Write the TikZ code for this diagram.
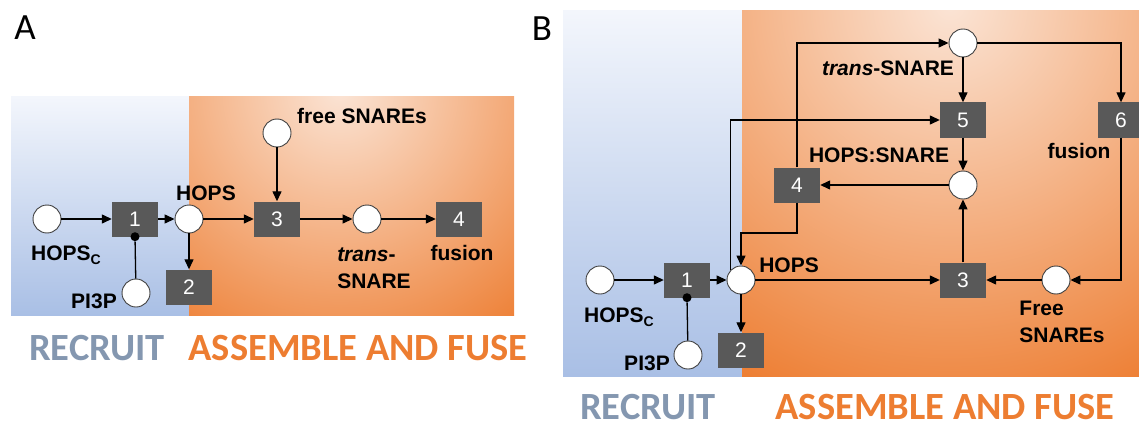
\documentclass[tikz,border=0pt]{standalone}
\usepackage{fontspec}
\setmainfont{Liberation Sans}
\newfontfamily\calfont{Carlito}
\usetikzlibrary{arrows.meta}
\definecolor{pnbox}{HTML}{595959}
\definecolor{recruitblue}{HTML}{8497B0}
\definecolor{fuseorange}{HTML}{ED7D31}
\definecolor{bgbluetop}{HTML}{F3F6FC}
\definecolor{bgbluebot}{HTML}{A9BFE5}
\definecolor{bgorangein}{HTML}{FBE4D5}
\definecolor{bgorangeout}{HTML}{ED7D31}
\newcommand{\hopsc}{HOPS\raisebox{-4pt}{\fontsize{14}{14}\selectfont C}}

\begin{document}
\begin{tikzpicture}[
   x=1pt,y=-1pt,>={Triangle[length=10pt,width=9pt]},
   pnplace/.style={circle,draw=black!75,line width=0.9pt,fill=white,
     minimum size=28pt,inner sep=0pt},
   pntrans/.style={fill=pnbox,minimum width=46pt,minimum height=35pt,
     inner sep=0pt,text=white,font=\fontsize{21}{21}\selectfont},
   pnread/.style={circle,fill=black,minimum size=9pt,inner sep=0pt},
   pnlabel/.style={inner sep=0pt,align=left,font=\fontsize{21}{26.5}\selectfont\bfseries},
   pnphase/.style={inner sep=0pt,font=\calfont\fontsize{38.5}{40}\selectfont\bfseries},
   pnpanel/.style={inner sep=0pt,font=\calfont\fontsize{37}{40}\selectfont},
   pnarc/.style={->,line width=1.3pt},
   pnline/.style={line width=1.3pt}
 ]
 \useasboundingbox (0,0) rectangle (1139,425);
 % A: recruit and assemble regions
 \shade[top color=bgbluetop,bottom color=bgbluebot] (11,97) rectangle (189,315);
 \begin{scope}
   \clip (189,97) rectangle (514,315);
   \fill[bgorangeout] (189,97) rectangle (514,315);
   \shade[inner color=bgorangein,outer color=bgorangeout] (340,90) circle (300pt);
 \end{scope}
 % B: recruit and assemble regions
 \shade[top color=bgbluetop,bottom color=bgbluebot] (563,11) rectangle (742,376);
 \begin{scope}
   \clip (742,11) rectangle (1139,376);
   \fill[bgorangeout] (742,11) rectangle (1139,376);
   \shade[inner color=bgorangein,outer color=bgorangeout] (950,5) circle (430pt);
 \end{scope}

 % A: places and transitions
 \node[pnplace] (a-hopsc) at (47,219) {};
 \node[pntrans] (a-t1) at (135,219) {1};
 \node[pnplace] (a-hops) at (189,219) {};
 \node[pntrans] (a-t2) at (189,287) {2};
 \node[pnplace] (a-pi3p) at (136,293) {};
 \node[pnread] (a-read) at (a-t1.south) {};
 \node[pntrans] (a-t3) at (277,219) {3};
 \node[pnplace] (a-free) at (277,133) {};
 \node[pnplace] (a-trans) at (367,219) {};
 \node[pntrans] (a-t4) at (459,219) {4};
 \foreach \from/\to in {a-hopsc/a-t1,a-t1/a-hops,a-hops/a-t2,a-hops/a-t3,
   a-free/a-t3,a-t3/a-trans,a-trans/a-t4} {
   \draw[pnarc] (\from) -- (\to);
 }
 \draw[pnline] (a-pi3p) -- (a-read);
 \node[pnlabel] (a-lfree) at (362,116) {free SNAREs};
 \node[pnlabel] (a-lhops) at (206,193) {HOPS};
 \node[pnlabel] (a-lhopsc) at (66,255) {\hopsc};
 \node[pnlabel] (a-lpi3p) at (94,301) {PI3P};
 \node[pnlabel] (a-ltrans) at (374,268) {\textit{trans}-\\SNARE};
 \node[pnlabel] (a-lfusion) at (462,253) {fusion};
 \node[pnphase,text=recruitblue] (a-recruit) at (97,348) {RECRUIT};
 \node[pnphase,text=fuseorange] (a-fuse) at (358,348) {ASSEMBLE AND FUSE};
 \node[pnpanel] (a-panel) at (25,28) {A};

 % B: places and transitions
 \node[pnplace] (b-trans) at (963,43) {};
 \node[pntrans] (b-t5) at (963,120) {5};
 \node[pntrans] (b-t6) at (1121,120) {6};
 \node[pnplace] (b-hsn) at (963,185) {};
 \node[pntrans] (b-t4) at (797,185) {4};
 \node[pnplace] (b-hops) at (741,280) {};
 \node[pntrans] (b-t1) at (687,280) {1};
 \node[pnplace] (b-hopsc) at (600,280) {};
 \node[pnplace] (b-pi3p) at (688,355) {};
 \node[pnread] (b-read) at (b-t1.south) {};
 \node[pntrans] (b-t2) at (741,350) {2};
 \node[pntrans] (b-t3) at (963,280) {3};
 \node[pnplace] (b-free) at (1056,280) {};
 \foreach \from/\to in {b-hopsc/b-t1,b-t1/b-hops,b-hops/b-t2,b-hops/b-t3,
   b-free/b-t3,b-t3/b-hsn,b-hsn/b-t4,b-trans/b-t5,b-t5/b-hsn} {
   \draw[pnarc] (\from) -- (\to);
 }
 \draw[pnline] (b-pi3p) -- (b-read);
 \draw[pnarc] (b-t4) |- (b-trans);
 \draw[pnarc] (b-trans) -| (b-t6);
 \draw[pnarc] (b-t6) |- (b-free);
 \draw[pnarc] (b-hops.north west) |- (b-t5);
 \draw[pnarc] (b-t4) -- ++(0,48) -| (b-hops);
 \node[pnlabel] (b-ltrans) at (888,68) {\textit{trans}-SNARE};
 \node[pnlabel] (b-lhsn) at (879,155) {HOPS:SNARE};
 \node[pnlabel] (b-lfusion) at (1079,151) {fusion};
 \node[pnlabel] (b-lhops) at (789,265) {HOPS};
 \node[pnlabel] (b-lhopsc) at (619,317) {\hopsc};
 \node[pnlabel] (b-lpi3p) at (647,363) {PI3P};
 \node[pnlabel] (b-lfree) at (1062,322) {Free\\SNAREs};
 \node[pnphase,text=recruitblue] (b-recruit) at (648,407) {RECRUIT};
 \node[pnphase,text=fuseorange] (b-fuse) at (945,407) {ASSEMBLE AND FUSE};
 \node[pnpanel] (b-panel) at (542,29) {B};
\end{tikzpicture}
\end{document}
